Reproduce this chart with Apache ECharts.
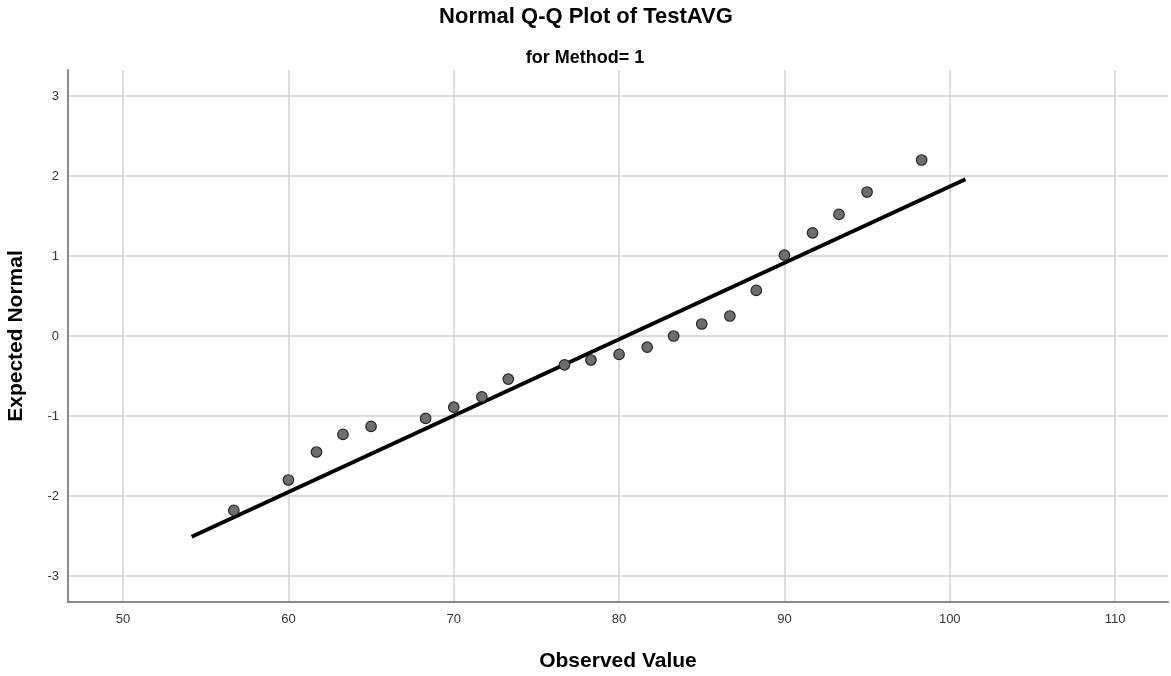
<!DOCTYPE html>
<html>
<head>
<meta charset="utf-8">
<script src="https://cdn.jsdelivr.net/npm/echarts@6/dist/echarts.min.js"></script>
<style>
html,body{margin:0;padding:0;background:#fff;}
#chart{width:1171px;height:676px;}
</style>
</head>
<body>
<div id="chart"></div>
<script>
// 观测值 / 期望正态值
var observed = [56.7, 60.0, 61.7, 63.3, 65.0, 68.3, 70.0, 71.7, 73.3, 76.7, 78.3, 80.0, 81.7, 83.3, 85.0, 86.7, 88.3, 90.0, 91.7, 93.3, 95.0, 98.3];
var expected = [-2.18, -1.80, -1.45, -1.23, -1.13, -1.03, -0.89, -0.76, -0.54, -0.36, -0.30, -0.23, -0.14, 0.00, 0.15, 0.25, 0.57, 1.01, 1.29, 1.52, 1.80, 2.20];
// 参考线端点
var lineX = [54.15, 100.95];
var lineY = [-2.51, 1.96];
var xTicks = [50, 60, 70, 80, 90, 100, 110];
var yTicks = [-3, -2, -1, 0, 1, 2, 3];

var font = 'Liberation Sans, Arial, sans-serif';
var points = [];
for (var i = 0; i < observed.length; i++) {
	points.push([observed[i], expected[i]]);
}
var linePts = [[lineX[0], lineY[0]], [lineX[1], lineY[1]]];

var chart = echarts.init(document.getElementById('chart'));
var option = {
	backgroundColor: '#fff',
	animation: false,
	title: [{
		text: 'Normal Q-Q Plot of TestAVG',
		left: 581, top: 1, textAlign: 'center',
		textStyle: {fontFamily: font, fontSize: 22, fontWeight: 'bold', color: '#000'}
	}, {
		text: 'for Method= 1',
		left: 580, top: 44, textAlign: 'center',
		textStyle: {fontFamily: font, fontSize: 18, fontWeight: 'bold', color: '#000'}
	}],
	grid: {left: 68, right: 3, top: 70, bottom: 74, containLabel: false, outerBoundsMode: 'none'},
	xAxis: {
		type: 'value',
		min: 46.67, max: 113.2,
		name: 'Observed Value',
		nameLocation: 'middle',
		nameGap: 49,
		nameMoveOverlap: false,
		nameTextStyle: {fontFamily: font, fontSize: 21, fontWeight: 'bold', color: '#000'},
		axisLine: {show: true, onZero: false, lineStyle: {color: '#888', width: 2}},
		axisTick: {show: false, customValues: xTicks},
		axisLabel: {customValues: xTicks, margin: 11, fontFamily: font, fontSize: 13, color: '#333'},
		splitLine: {show: true, lineStyle: {color: '#d0d0d0', width: 1.5}}
	},
	yAxis: {
		type: 'value',
		min: -3.325, max: 3.325,
		name: 'Expected Normal',
		nameLocation: 'middle',
		nameGap: 41,
		nameMoveOverlap: false,
		nameTextStyle: {fontFamily: font, fontSize: 21, fontWeight: 'bold', color: '#000'},
		axisLine: {show: true, onZero: false, lineStyle: {color: '#888', width: 2}},
		axisTick: {show: false, customValues: yTicks},
		axisLabel: {customValues: yTicks, margin: 9, fontFamily: font, fontSize: 13, color: '#333'},
		splitLine: {show: true, lineStyle: {color: '#d0d0d0', width: 1.5}}
	},
	series: [{
		type: 'line',
		data: linePts,
		symbol: 'none',
		lineStyle: {color: '#000', width: 4},
		z: 2
	}, {
		type: 'scatter',
		data: points,
		symbol: 'circle',
		symbolSize: 10.5,
		itemStyle: {color: '#6e6e6e', borderColor: '#262626', borderWidth: 1.2, opacity: 1},
		z: 3
	}]
};
chart.setOption(option);
</script>
</body>
</html>
